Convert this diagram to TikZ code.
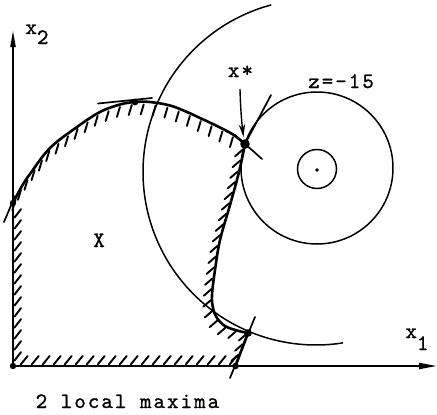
\documentclass[tikz,border=0pt]{standalone}
\usepackage{fontspec}
\newfontfamily\tw[LetterSpace=9, FakeBold=1]{lmmono10-regular.otf}
\usetikzlibrary{arrows.meta,decorations.markings}
\tikzset{
  hatchline/.style={line width=1.9pt, line cap=round},
  hatchmarks/.style n args={3}{decorate, decoration={markings,
      mark=between positions #1 step #2 with {\pgftransformresetnontranslations \draw[hatchline] #3;}}},
  bound/.style={line width=2.6pt, line cap=round, line join=round},
  contour/.style={line width=1.5pt},
  axisline/.style={line width=2pt},
  tangent/.style={line width=1.7pt, line cap=round},
  lbl/.style={font=\tw\fontsize{22pt}{24pt}\selectfont, inner sep=0pt},
}
\begin{document}
\begin{tikzpicture}[x=1pt,y=-1pt]
\useasboundingbox (0,0) rectangle (437,415);
% key points
\coordinate (O) at (13,366);
\coordinate (P) at (13,203);
\coordinate (T) at (135,102);
\coordinate (S) at (245,144);
\coordinate (Q) at (248,333);
\coordinate (R) at (235.5,366);
\coordinate (C) at (317,168);
\coordinate (yend) at (13,30);
\coordinate (xend) at (437,366);
% axes
\draw[axisline, -{Triangle[length=17pt,width=5pt]}] (O) -- (yend);
\draw[axisline, -{Triangle[length=18pt,width=6pt]}] (O) -- (xend);
% hatched boundary on axes
\draw[bound] (O) -- (P);
\path[hatchmarks={0.03 and 0.97}{11pt}{(1.5pt,0.5pt) -- (8pt,9pt)}] (O) -- (P);
\draw[bound] (O) -- (R);
\path[hatchmarks={0.03 and 0.97}{11pt}{(1pt,1.5pt) -- (8pt,10pt)}] (O) -- (R);
% upper boundary curve
\draw[bound] plot[smooth, tension=0.6] coordinates {(P) (22,186) (30,174) (50,148) (77,127) (100,112) (120,104.5) (T) (150,102) (170,105.5) (187,112) (200,118) (217,126) (233,134.5) (S)};
\path[hatchmarks={0.02 and 0.97}{12pt}{(-0.3pt,-2.5pt) -- (-3.3pt,-12.5pt)}]
  (P) -- (22,186) -- (30,174) -- (50,148) -- (77,127) -- (100,112) -- (120,104.5) -- (T) -- (150,102) -- (170,105.5) -- (187,112) -- (200,118) -- (217,126) -- (233,134.5) -- (S);
% right boundary
\draw[bound] plot[smooth, tension=0.6] coordinates {(S) (239,172) (230,205) (220,240) (215,270) (212,295) (213,308) (217,318) (225,326) (237,330.5) (Q)} -- (R);
\path[hatchmarks={0.02 and 0.99}{11pt}{(-1.5pt,-1pt) -- (-9pt,-7.5pt)}]
  (S) -- (239,172) -- (230,205) -- (220,240) -- (215,270) -- (212,295) -- (213,308) -- (217,318) -- (225,326) -- (237,330.5) -- (Q) -- (R);
% contours
\draw[contour] plot[domain=105:279, samples=90, smooth] ({316+173*cos(\x)}, {172-173*sin(\x)});
\draw[contour] (C) circle[radius=76pt];
\draw[contour] (317,169) circle[radius=19.5pt];
\fill (317,170) circle[radius=1.8pt];
% tangent lines
\coordinate (tT1) at (98,103.5);
\coordinate (tT2) at (152,98);
\draw[tangent] (tT1) -- (tT2);
\coordinate (tS1) at (271,95);
\draw[tangent] (tS1) -- (S);
\coordinate (cS1) at (235,135);
\coordinate (cS2) at (262,159);
\draw[tangent] (cS1) -- (cS2);
\coordinate (tQ1) at (255,317);
\coordinate (tQ2) at (230,378);
\draw[tangent] (tQ1) -- (tQ2);
\coordinate (tP1) at (4,222);
\coordinate (tP2) at (15,196);
\draw[tangent] (tP1) -- (tP2);
% dots
\fill (O) circle[radius=3.2pt];
\fill (P) circle[radius=3.2pt];
\fill (T) circle[radius=3.4pt];
\fill (S) circle[radius=4.8pt];
\fill (Q) circle[radius=3.8pt];
\fill (R) circle[radius=3.3pt];
% labels
\node[lbl, anchor=base west] (lx2) at (25.2,34) {x\raisebox{-10pt}{2}};
\node[lbl, anchor=base west] (lx1) at (405.2,338) {x\raisebox{-12pt}{1}};
\node[lbl, anchor=base west] (lxs) at (227.7,77) {x*};
\node[lbl, anchor=base west] (lz) at (308,88) {z=-15};
\node[lbl, anchor=base] (lX) at (99,247) {X};
\node[lbl, anchor=base west] (lcap) at (35.5,408) {2 local maxima};
% arrow to x*
\coordinate (xsarrow) at (240,89);
\coordinate (xstip) at (243.5,137);
\draw[line width=1.4pt, -{Stealth[length=13pt,width=6.5pt]}] (xsarrow) .. controls (240.5,110) and (242,125) .. (xstip);
\end{tikzpicture}
\end{document}
